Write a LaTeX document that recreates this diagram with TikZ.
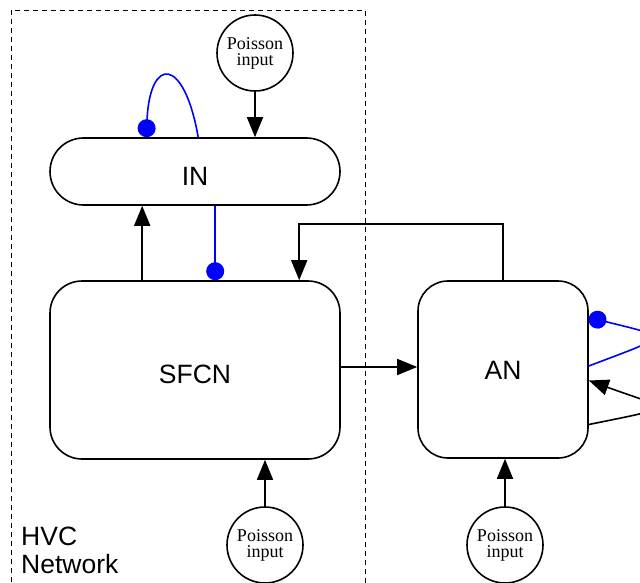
\documentclass[tikz,border=0pt]{standalone}
\usepackage{fontspec}
\setmainfont{Liberation Sans}
\newfontfamily\poissonfont{Liberation Serif}
\usetikzlibrary{arrows.meta}
\tikzset{
  x=1pt, y=-1pt,
  pop/.style={draw, line width=1.6pt, rectangle, minimum width=#1, inner sep=0pt,
    text height=28pt, font=\fontsize{26.5}{30}\selectfont},
  src/.style={draw, line width=1.6pt, circle, minimum size=76pt, inner sep=0pt,
    align=center, font=\poissonfont\fontsize{18}{16}\selectfont},
  exc/.style={line width=1.6pt, -{Triangle[length=20pt,width=16pt]}},
  inh/.style={blue, line width=1.6pt, -{Circle[length=18pt]}},
  region/.style={line width=0.9pt, dash pattern=on 5pt off 4pt},
}
\begin{document}
\begin{tikzpicture}
\useasboundingbox (0,0) rectangle (640,583);

% HVC network boundary (open at the bottom)
\draw[region] (11,600) -- (11,10) -- (365,10) -- (365,600);
\node[anchor=north west, align=left, inner sep=0pt, font=\fontsize{26.5}{28}\selectfont]
  (hvc) at (21,527) {HVC\\Network};

% populations
\node[pop=290pt, minimum height=67pt, rounded corners=33.5pt] (in) at (195,171.5) {IN};
\node[pop=290pt, minimum height=178pt, rounded corners=32pt] (sfcn) at (195,370) {SFCN};
\node[pop=170pt, minimum height=177pt, rounded corners=30pt, text height=19pt] (an) at (503,369.5) {AN};

% Poisson sources
\node[src] (p1) at (255,53) {Poisson\\input};
\node[src] (p2) at (265,545) {Poisson\\input};
\node[src] (p3) at (505,545) {Poisson\\input};

% external drive
\draw[exc] (p1) -- (p1 |- in.north);
\draw[exc] (p2) -- (p2 |- sfcn.south);
\draw[exc] (p3) -- (p3 |- an.south);

% excitatory projections
\draw[exc] ([xshift=93pt]sfcn.north west) -- ([xshift=93pt]in.south west);
\draw[exc] ([yshift=3pt]sfcn.east) -- ([yshift=3pt]sfcn.east -| an.west);
\draw[exc] ([xshift=86pt]an.north west) -- ++(0,-56) -| ([xshift=250pt]sfcn.north west);

% inhibitory projections
\draw[inh] ([xshift=166pt]in.south west) -- ([xshift=166pt]sfcn.north west);
\draw[inh] ([xshift=149pt]in.north west) .. controls (184,56) and (150,56) .. ([xshift=97pt]in.north west);

% recurrent loops on AN
\draw[inh] ([yshift=3.5pt]an.east) .. controls (670,335) and (672,338) .. ([yshift=52pt]an.east);
\draw[exc] ([yshift=-55pt]an.east) .. controls (680,406) and (670,410) .. ([yshift=-11pt]an.east);
\end{tikzpicture}
\end{document}
